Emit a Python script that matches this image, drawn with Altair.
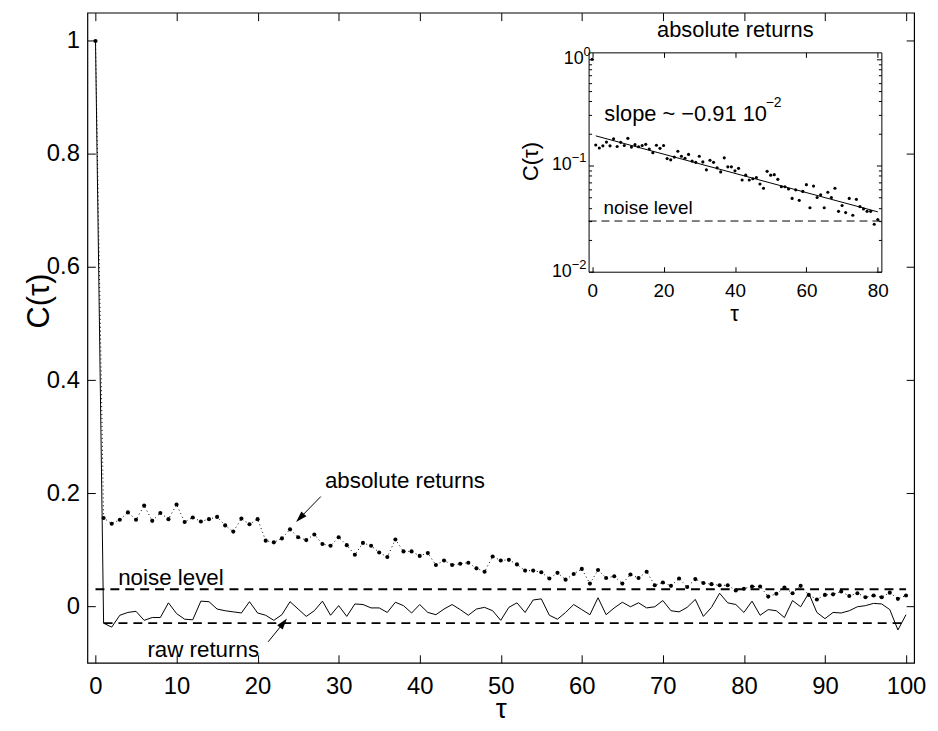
import altair as alt
import pandas as pd

# ---------------- data ----------------
tau = list(range(101))
abs_returns = [
    1.0, 0.156, 0.146, 0.153, 0.166, 0.153, 0.178, 0.151, 0.165, 0.154,
    0.180, 0.149, 0.157, 0.150, 0.154, 0.158, 0.143, 0.132, 0.155, 0.145,
    0.154, 0.116, 0.113, 0.120, 0.136, 0.122, 0.117, 0.127, 0.110, 0.107,
    0.122, 0.108, 0.091, 0.112, 0.107, 0.095, 0.087, 0.118, 0.097, 0.097,
    0.089, 0.094, 0.073, 0.081, 0.073, 0.075, 0.077, 0.067, 0.061, 0.088,
    0.081, 0.082, 0.074, 0.063, 0.063, 0.060, 0.049, 0.059, 0.047, 0.057,
    0.066, 0.040, 0.064, 0.050, 0.053, 0.040, 0.056, 0.050, 0.061, 0.037,
    0.042, 0.036, 0.049, 0.034, 0.048, 0.041, 0.039, 0.037, 0.037, 0.028,
    0.031, 0.035, 0.035, 0.017, 0.022, 0.033, 0.023, 0.036, 0.020, 0.012,
    0.020, 0.021, 0.026, 0.018, 0.023, 0.016, 0.019, 0.016, 0.024, 0.013,
    0.019,
]
raw_returns = [
    1.0, -0.030, -0.037, -0.016, -0.011, -0.009, -0.025, -0.020, -0.020, 0.006,
    -0.013, -0.023, -0.024, 0.009, 0.008, -0.005, -0.008, -0.010, -0.012, 0.008,
    -0.012, -0.016, -0.025, -0.015, 0.008, -0.005, -0.018, -0.008, 0.009, -0.016,
    0.001, -0.018, 0.004, 0.003, -0.003, -0.003, -0.011, 0.007, 0.001, -0.012,
    0.003, -0.011, -0.015, -0.005, 0.003, -0.006, -0.016, -0.005, -0.002, -0.008,
    -0.025, -0.002, 0.006, -0.011, 0.011, 0.013, -0.016, -0.023, -0.011, 0.003,
    -0.006, -0.015, 0.015, -0.015, -0.003, 0.007, -0.001, 0.006, -0.003, -0.001,
    0.010, -0.008, -0.010, -0.002, 0.012, -0.018, -0.002, 0.023, 0.006, 0.003,
    -0.011, 0.009, -0.016, -0.006, -0.008, -0.020, 0.010, -0.001, 0.023, -0.011,
    -0.022, -0.011, -0.012, -0.008, -0.001, 0.001, 0.005, 0.004, -0.006, -0.042,
    -0.015,
]
noise_level = 0.03

fit_tau = [1, 80]
fit_c = [0.19, 0.0366]

main_x_ticks = list(range(0, 101, 10))
main_y_ticks = [0, 0.2, 0.4, 0.6, 0.8, 1.0]
inset_x_ticks = [0, 20, 40, 60, 80]
inset_y_major = [0.01, 0.1, 1.0]
inset_y_minor = [0.02, 0.03, 0.04, 0.05, 0.06, 0.07, 0.08, 0.09,
                 0.2, 0.3, 0.4, 0.5, 0.6, 0.7, 0.8, 0.9]
inset_y_base = ["10", "10", "10"]
inset_y_exp = ["\u22122", "\u22121", "0"]
inset_y_lab_x = [-5.7, -5.7, -2.4]

note_text = ["absolute returns", "noise level", "raw returns"]
note_x = [28.3, 2.8, 6.4]
note_y = [0.221, 0.049, -0.078]

arrow_x0 = [27.8, 21.3]
arrow_y0 = [0.194, -0.063]
arrow_x1 = [25.35, 23.08]
arrow_y1 = [0.158, -0.0316]
arrow_angle = [224, 39]

FONT = "Liberation Sans"
W, H = 833, 655

df = pd.DataFrame({"tau": tau, "abs": abs_returns, "raw": raw_returns})
dfi = df[df["tau"] <= 80]


def sx():
    return alt.Scale(domain=[-1, 101], nice=False, zero=False)


def sy():
    return alt.Scale(domain=[-0.1, 1.05], nice=False, zero=False)


def sxi():
    return alt.Scale(domain=[-1, 81], range=[505, 800], nice=False, zero=False)


def syi():
    return alt.Scale(type="log", domain=[0.01, 1.16], range=[261, 40], nice=False)


def tick_axis(orient, offset, values, size, dom=False):
    return alt.Axis(orient=orient, offset=offset, values=values, tickSize=size,
                    tickWidth=1, labels=False, domain=dom, domainWidth=1,
                    grid=False, title=None)


# ---------------- main panel ----------------
noise_df = pd.DataFrame({"y": [noise_level, -noise_level], "x0": [0, 1], "x1": [100, 100]})
dashed = alt.Chart(noise_df).mark_rule(color="black", strokeWidth=1.8, strokeDash=[9, 6]).encode(
    x=alt.X("x0:Q", scale=sx(), axis=alt.Axis(
        orient="bottom", values=main_x_ticks, tickSize=0, labelPadding=12,
        labelFontSize=24, domain=False, grid=False, title="\u03c4",
        titleFontSize=28, titleX=W / 2, titleY=47, titleAlign="center",
        titleBaseline="middle", titleAngle=0)),
    x2="x1:Q",
    y=alt.Y("y:Q", scale=sy(), axis=alt.Axis(
        orient="left", values=main_y_ticks, format="~g", tickSize=0, labelPadding=8,
        labelFontSize=24, domain=False, grid=False, title="C(\u03c4)",
        titleFontSize=31, titleAngle=270, titleX=-48, titleY=290,
        titleAlign="center", titleBaseline="middle")),
)

raw_line = alt.Chart(df).mark_line(color="black", strokeWidth=1).encode(
    x=alt.X("tau:Q", scale=sx(), axis=tick_axis("top", -H, main_x_ticks, 8)),
    y=alt.Y("raw:Q", scale=sy(), axis=tick_axis("right", -W, main_y_ticks, 8)),
)

abs_line = alt.Chart(df).mark_line(color="black", strokeWidth=1, strokeDash=[1, 3]).encode(
    x=alt.X("tau:Q", scale=sx(), axis=tick_axis("bottom", -H, main_x_ticks, 8)),
    y=alt.Y("abs:Q", scale=sy(), axis=tick_axis("left", -W, main_y_ticks, 8)),
)

abs_pts = alt.Chart(df).mark_circle(color="black", size=17, opacity=1).encode(
    x=alt.X("tau:Q", scale=sx(), axis=None),
    y=alt.Y("abs:Q", scale=sy(), axis=None),
)

notes = alt.Chart(pd.DataFrame({"x": note_x, "y": note_y, "t": note_text})).mark_text(
    align="left", baseline="middle", fontSize=22.5, font=FONT, color="black").encode(
    x=alt.X("x:Q", scale=sx(), axis=None),
    y=alt.Y("y:Q", scale=sy(), axis=None),
    text="t:N",
)

arrows_df = pd.DataFrame({"x0": arrow_x0, "y0": arrow_y0, "x1": arrow_x1,
                          "y1": arrow_y1, "ang": arrow_angle})
shafts = alt.Chart(arrows_df).mark_rule(color="black", strokeWidth=1).encode(
    x=alt.X("x0:Q", scale=sx(), axis=None), x2="x1:Q",
    y=alt.Y("y0:Q", scale=sy(), axis=None), y2="y1:Q",
)
heads = alt.Chart(arrows_df).mark_point(
    shape="M0,-1L-0.5,0.6L0.5,0.6Z", filled=True, size=200, color="black", opacity=1).encode(
    x=alt.X("x1:Q", scale=sx(), axis=None),
    y=alt.Y("y1:Q", scale=sy(), axis=None),
    angle=alt.Angle("ang:Q", scale=None),
)

# ---------------- inset ----------------
inset_dash = alt.Chart(pd.DataFrame({"y": [noise_level], "x0": [-1], "x1": [81]})).mark_rule(
    color="black", strokeWidth=1, strokeDash=[8, 5]).encode(
    x=alt.X("x0:Q", scale=sxi(), axis=alt.Axis(
        orient="bottom", offset=-394, values=inset_x_ticks, tickSize=0, labelPadding=10,
        labelFontSize=19, domain=False, grid=False, title=None)),
    x2="x1:Q",
    y=alt.Y("y:Q", scale=syi(), axis=tick_axis("right", -328, inset_y_major, 5, dom=True)),
)

fit_line = alt.Chart(pd.DataFrame({"tau": fit_tau, "c": fit_c})).mark_line(
    color="black", strokeWidth=1).encode(
    x=alt.X("tau:Q", scale=sxi(), axis=tick_axis("top", -261, inset_x_ticks, 5, dom=True)),
    y=alt.Y("c:Q", scale=syi(), axis=tick_axis("left", -800, inset_y_major, 5, dom=True)),
)

inset_pts = alt.Chart(dfi).mark_circle(color="black", size=10, opacity=1).encode(
    x=alt.X("tau:Q", scale=sxi(), axis=tick_axis("bottom", -615, inset_x_ticks, 5, dom=True)),
    y=alt.Y("abs:Q", scale=syi(), axis=tick_axis("right", -328, inset_y_minor, 3)),
)

inset_title = alt.Chart(pd.DataFrame({"x": [40.1], "y": [1.90], "t": ["absolute returns"]})).mark_text(
    align="center", baseline="middle", fontSize=22, font=FONT, color="black").encode(
    x=alt.X("x:Q", scale=sxi(), axis=None),
    y=alt.Y("y:Q", scale=syi(), axis=tick_axis("left", -800, inset_y_minor, 3)),
    text="t:N",
)
inset_noise = alt.Chart(pd.DataFrame({"x": [3.2], "y": [0.0396], "t": ["noise level"]})).mark_text(
    align="left", baseline="middle", fontSize=19, font=FONT, color="black").encode(
    x=alt.X("x:Q", scale=sxi(), axis=None),
    y=alt.Y("y:Q", scale=syi(), axis=None),
    text="t:N",
)
inset_slope = alt.Chart(pd.DataFrame({"x": [3.4], "y": [0.3024], "t": ["slope ~ \u22120.91 10"]})).mark_text(
    align="left", baseline="middle", fontSize=22, font=FONT, color="black").encode(
    x=alt.X("x:Q", scale=sxi(), axis=None),
    y=alt.Y("y:Q", scale=syi(), axis=None),
    text="t:N",
)
slope_sup = alt.Chart(pd.DataFrame({"x": [48.6], "y": [0.3024], "t": ["\u22122"]})).mark_text(
    align="left", baseline="middle", fontSize=14, font=FONT, color="black", dy=-11).encode(
    x=alt.X("x:Q", scale=sxi(), axis=None),
    y=alt.Y("y:Q", scale=syi(), axis=None),
    text="t:N",
)

ylab_df = pd.DataFrame({"x": inset_y_lab_x, "y": inset_y_major,
                        "b": inset_y_base, "e": inset_y_exp})
ylab_base = alt.Chart(ylab_df).mark_text(
    align="right", baseline="middle", fontSize=18, font=FONT, color="black").encode(
    x=alt.X("x:Q", scale=sxi(), axis=None),
    y=alt.Y("y:Q", scale=syi(), axis=None),
    text="b:N",
)
ylab_exp = alt.Chart(ylab_df).mark_text(
    align="left", baseline="middle", fontSize=13, font=FONT, color="black", dy=-7).encode(
    x=alt.X("x:Q", scale=sxi(), axis=None),
    y=alt.Y("y:Q", scale=syi(), axis=None),
    text="e:N",
)

inset_ytitle = alt.Chart(pd.DataFrame({"x": [-17.0], "y": [0.109], "t": ["C(\u03c4)"]})).mark_text(
    align="center", baseline="middle", fontSize=22, font=FONT, color="black", angle=270).encode(
    x=alt.X("x:Q", scale=sxi(), axis=None),
    y=alt.Y("y:Q", scale=syi(), axis=None),
    text="t:N",
)
inset_xtitle = alt.Chart(pd.DataFrame({"x": [39.9], "y": [0.0040], "t": ["\u03c4"]})).mark_text(
    align="center", baseline="middle", fontSize=22, font=FONT, color="black").encode(
    x=alt.X("x:Q", scale=sxi(), axis=None),
    y=alt.Y("y:Q", scale=syi(), axis=None),
    text="t:N",
)

chart = alt.layer(
    dashed, raw_line, abs_line, abs_pts, notes, shafts, heads,
    inset_dash, fit_line, inset_pts, inset_title, inset_noise, inset_slope, slope_sup,
    ylab_base, ylab_exp, inset_ytitle, inset_xtitle,
).resolve_scale(
    x="independent", y="independent"
).properties(
    width=W, height=H,
    autosize=alt.AutoSizeParams(type="none"),
    padding={"left": 80, "top": 2, "right": 16, "bottom": 58},
).configure_view(
    stroke="black", strokeWidth=1.2
).configure_axis(
    labelFont=FONT, titleFont=FONT, labelColor="black", titleColor="black",
    tickColor="black", domainColor="black", titleFontWeight="normal",
    labelFlush=False, labelOverlap=False, grid=False,
)

chart.save("out.html", embed_options={"renderer": "svg", "actions": False})
